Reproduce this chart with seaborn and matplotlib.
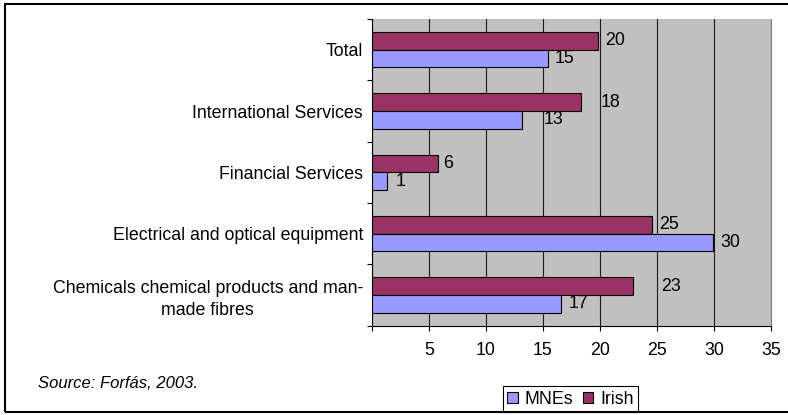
import matplotlib
matplotlib.use("Agg")
import matplotlib.pyplot as plt
from matplotlib.patches import Patch, Rectangle
import numpy as np
import pandas as pd
import seaborn as sns

# Sector categories, top to bottom
categories = [
    "Total",
    "International Services",
    "Financial Services",
    "Electrical and optical equipment",
    "Chemicals chemical products and man-\nmade fibres",
]
# Values per sector for each ownership group
mnes = [15.4, 13.2, 1.3, 29.9, 16.6]
irish = [19.8, 18.3, 5.8, 24.6, 22.9]

series_names = ["Irish", "MNEs"]
colors = {"Irish": "#993366", "MNEs": "#9999FF"}

# horizontal gap (pixels) between bar end and its value label
irish_label_gap = [7, 20, 5, 7, 28]
mnes_label_gap = [7, 21, 9, 7, 7]

x_ticks = [0, 5, 10, 15, 20, 25, 30, 35]
x_tick_labels = ["", "5", "10", "15", "20", "25", "30", "35"]

df = pd.DataFrame({
    "category": categories * 2,
    "value": irish + mnes,
    "series": ["Irish"] * len(categories) + ["MNEs"] * len(categories),
})

FS = 12.8
plt.rcParams["font.family"] = ["Liberation Sans", "DejaVu Sans"]
plt.rcParams["font.size"] = FS

W, H = 788, 415
fig = plt.figure(figsize=(W / 100, H / 100), dpi=100)
fig.patch.set_facecolor("white")

left, right, top, bottom = 372, 771, 19, 325.7
ax = fig.add_axes([left / W, 1 - bottom / H, (right - left) / W, (bottom - top) / H])
ax.set_facecolor("#C0C0C0")

sns.barplot(
    data=df, y="category", x="value", hue="series",
    hue_order=series_names, palette=colors, orient="h",
    width=0.58, saturation=1, edgecolor="black", linewidth=0.8,
    legend=False, ax=ax, zorder=3,
)

ax.set_xlim(0, 35)
ax.set_ylim(len(categories) - 0.5, -0.5)
ax.set_xlabel("")
ax.set_ylabel("")

# x axis: gridlines at every 5, outward ticks
ax.set_xticks(x_ticks)
ax.set_xticklabels(x_tick_labels)
ax.tick_params(axis="x", direction="out", length=3.6, width=0.8, pad=8, colors="black")
ax.grid(axis="x", color="#1a1a1a", linewidth=0.8, zorder=0)
ax.set_axisbelow(True)

# y axis: ticks at category boundaries, labels at category centres
ax.set_yticks(np.arange(-0.5, len(categories), 1.0))
ax.set_yticklabels([])
ax.tick_params(axis="y", which="major", direction="out", length=3.6, width=0.8)
ax.set_yticks(np.arange(len(categories)), minor=True)
ax.set_yticklabels(categories, minor=True, multialignment="center", linespacing=1.38)
ax.tick_params(axis="y", which="minor", length=0, pad=6.5)

ax.spines["top"].set_visible(False)
ax.spines["right"].set_color("#808080")
ax.spines["left"].set_color("black")
ax.spines["bottom"].set_color("black")
ax.spines["left"].set_linewidth(0.8)
ax.spines["bottom"].set_linewidth(0.8)

# value labels beside each bar
gaps = {"Irish": irish_label_gap, "MNEs": mnes_label_gap}
for container, name in zip(ax.containers, series_names):
    for bar, gap in zip(container, gaps[name]):
        v = bar.get_width()
        ax.annotate(
            f"{v:.0f}",
            xy=(v, bar.get_y() + bar.get_height() / 2),
            xytext=(gap * 0.72, 0), textcoords="offset points",
            ha="left", va="center", fontsize=FS, zorder=5,
        )

# legend
handles = [Patch(facecolor=colors[n], edgecolor="black", linewidth=0.8) for n in ["MNEs", "Irish"]]
leg = fig.legend(
    handles, ["MNEs", "Irish"], loc="lower center",
    bbox_to_anchor=(570.5 / W, 3 / H), ncol=2, frameon=True, fancybox=False,
    framealpha=1, edgecolor="black", handlelength=0.6, handleheight=0.6,
    handletextpad=0.4, columnspacing=0.5, borderpad=0.25, borderaxespad=0,
)
leg.get_frame().set_linewidth(0.8)

fig.text(38 / W, 1 - 383 / H, "Source: Forfás, 2003.", style="italic",
         ha="left", va="center", fontsize=12)

# outer frame
fig.patches.append(Rectangle(
    (5 / W, 1 - 412 / H), 1.0, (412 - 4) / H, transform=fig.transFigure,
    fill=False, edgecolor="black", linewidth=1.5, zorder=10,
))

fig.savefig("out.png", dpi=100)
